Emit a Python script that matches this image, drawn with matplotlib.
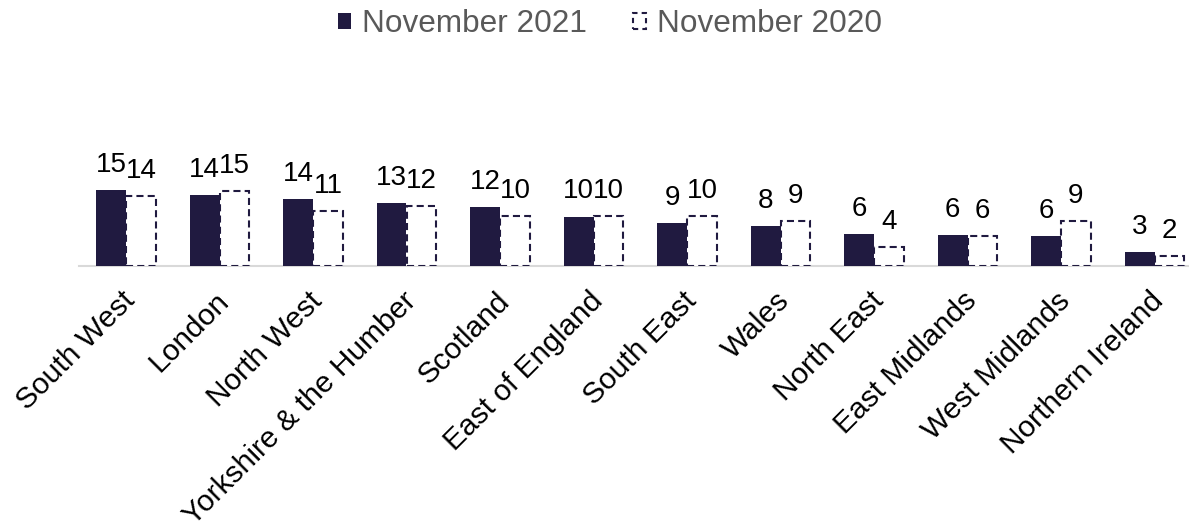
import matplotlib
matplotlib.use("Agg")
import matplotlib.pyplot as plt
from matplotlib.patches import Rectangle
from matplotlib.transforms import ScaledTranslation
import numpy as np

regions = ["South West", "London", "North West", "Yorkshire & the Humber", "Scotland",
           "East of England", "South East", "Wales", "North East", "East Midlands",
           "West Midlands", "Northern Ireland"]
nov_2021 = [15.4, 14.4, 13.6, 12.7, 11.9, 10.0, 8.7, 8.1, 6.4, 6.2, 6.1, 2.8]
nov_2020 = [14.1, 15.2, 11.1, 12.1, 10.1, 10.1, 10.1, 9.1, 3.9, 6.1, 9.1, 2.0]
labels_2021 = ["15", "14", "14", "13", "12", "10", "9", "8", "6", "6", "6", "3"]
labels_2020 = ["14", "15", "11", "12", "10", "10", "10", "9", "4", "6", "9", "2"]

navy = "#201A40"
plt.rcParams["font.family"] = ["Liberation Sans", "DejaVu Sans"]

W, H = 1189, 525
fig = plt.figure(figsize=(W / 100, H / 100), dpi=100)
ax_left = 79.25 / W
ax_w = 1122.0 / W
base_px = 266
px_per_unit = 4.95
ymax = 20
ax_h = ymax * px_per_unit / H
ax = fig.add_axes([ax_left, (H - base_px) / H, ax_w, ax_h])

x = np.arange(len(regions))
bw = 0.32
dash = (0, (3.4, 2.0))
ax.bar(x - bw / 2, nov_2021, width=bw, color=navy, edgecolor=navy, linewidth=0, zorder=3)
ax.bar(x + bw / 2, nov_2020, width=bw, facecolor="white", edgecolor=navy,
       linewidth=1.5, linestyle=dash, zorder=3)

for xi, v, lab in zip(x - bw / 2, nov_2021, labels_2021):
    ax.annotate(lab, (xi, v), xytext=(0, 13), textcoords="offset points",
                ha="center", va="baseline", fontsize=20, color="black")
for xi, v, lab in zip(x + bw / 2, nov_2020, labels_2020):
    ax.annotate(lab, (xi, v), xytext=(0, 13), textcoords="offset points",
                ha="center", va="baseline", fontsize=20, color="black")

ax.set_xlim(-0.5, len(regions) - 0.5)
ax.set_ylim(0, ymax)
for s in ["top", "right", "left"]:
    ax.spines[s].set_visible(False)
ax.spines["bottom"].set_color("#D9D9D9")
ax.spines["bottom"].set_linewidth(1.5)
ax.spines["bottom"].set_zorder(1)
ax.set_yticks([])
ax.set_xticks(x)
ax.set_xticklabels(regions, rotation=45, ha="right", va="center",
                   rotation_mode="anchor", fontsize=21.5, color="black")
ax.tick_params(axis="x", length=0, pad=22)
shift = ScaledTranslation(0.05, 0, fig.dpi_scale_trans)
for lbl in ax.get_xticklabels():
    lbl.set_transform(lbl.get_transform() + shift)

h1 = Rectangle((0, 0), 1, 1, facecolor=navy, edgecolor=navy, linewidth=0)
h2 = Rectangle((0, 0), 1, 1, facecolor="white", edgecolor=navy, linewidth=1.5, linestyle=(0, (2.5, 2)))
leg = fig.legend([h1, h2], ["November 2021", "November 2020"], loc="center",
                 bbox_to_anchor=(610 / W, 1 - 24 / H), ncol=2, frameon=False,
                 fontsize=22.7, handlelength=0.42, handleheight=0.42,
                 handletextpad=0.35, columnspacing=1.45)
for t in leg.get_texts():
    t.set_color("#595959")

fig.savefig("out.png", dpi=100)
